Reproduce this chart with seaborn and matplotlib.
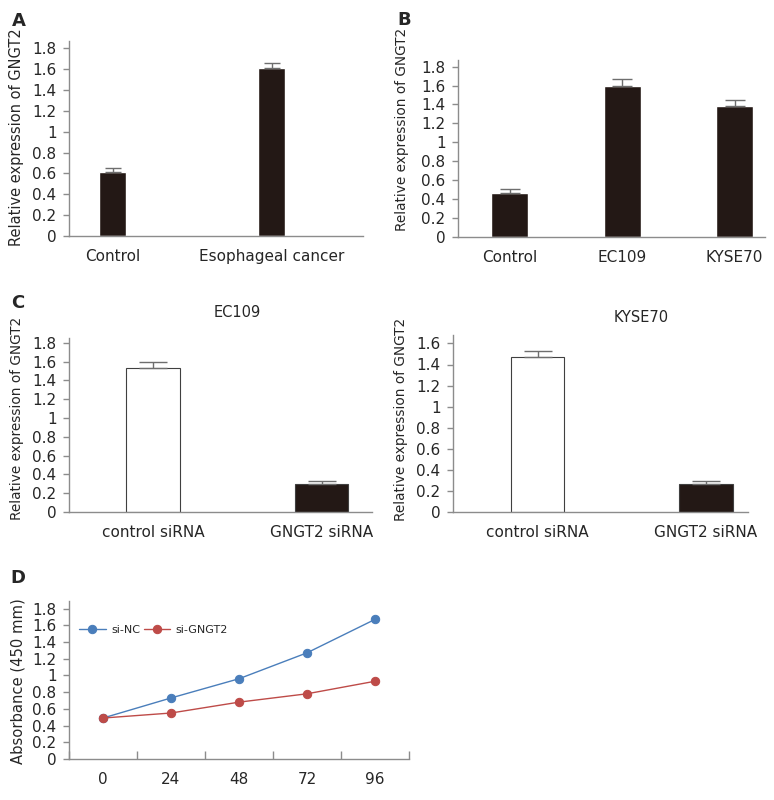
import pandas as pd
import matplotlib
matplotlib.use("Agg")
import matplotlib.pyplot as plt
import seaborn as sns

# panel A
a_cats = ["Control", "Esophageal cancer"]
a_vals = [0.61, 1.61]
a_err = [0.04, 0.05]

# panel B
b_cats = ["Control", "EC109", "KYSE70"]
b_vals = [0.47, 1.60, 1.385]
b_err = [0.033, 0.065, 0.06]

# panel C
c_cats = ["control siRNA", "GNGT2 siRNA"]
c_ec109_vals = [1.535, 0.30]
c_ec109_err = [0.06, 0.03]
c_kyse70_vals = [1.47, 0.266]
c_kyse70_err = [0.06, 0.03]

# panel D
d_hours = ["0", "24", "48", "72", "96"]
d_si_nc = [0.49, 0.73, 0.96, 1.27, 1.67]
d_si_gngt2 = [0.49, 0.55, 0.68, 0.78, 0.93]

sns.set_style("white")
plt.rcParams["font.family"] = ["DejaVu Sans"]
plt.rcParams["font.size"] = 10.5

BAR = "#231815"
GREY = "#8c8c8c"
W, H = 774, 800

fig = plt.figure(figsize=(7.74, 8.0), dpi=100)


def make_ax(left, right, top, bottom):
    return fig.add_axes([left / W, (H - bottom) / H, (right - left) / W, (bottom - top) / H])


def style(ax, ylim_top, yticks, lab_x, lab_y, ylabel="Relative expression of GNGT2", labsize=10.5):
    ax.set_ylim(0, ylim_top)
    ax.set_yticks(yticks)
    ax.set_yticklabels([("%g" % t) for t in yticks])
    for s in ["top", "right"]:
        ax.spines[s].set_visible(False)
    for s in ["left", "bottom"]:
        ax.spines[s].set_color(GREY)
        ax.spines[s].set_linewidth(1)
    ax.tick_params(axis="y", left=True, length=4, width=1, color=GREY, pad=5, labelsize=11)
    ax.tick_params(axis="x", bottom=False, pad=6, labelsize=11)
    ax.set_xlabel("")
    ax.set_ylabel(ylabel, fontsize=labsize)
    ax.yaxis.set_label_coords(lab_x, lab_y)


def err_up(ax, vals, errs, cap):
    ax.errorbar(range(len(vals)), vals, yerr=[[0] * len(errs), errs], fmt="none",
                ecolor="#6e6e6e", elinewidth=1, capsize=cap, capthick=1)


yt = [0, 0.2, 0.4, 0.6, 0.8, 1, 1.2, 1.4, 1.6, 1.8]

# A
ax = make_ax(69, 363, 41, 236)
sns.barplot(x=a_cats, y=a_vals, color=BAR, saturation=1, width=0.17, errorbar=None, ax=ax)
err_up(ax, a_vals, a_err, 6)
ax.set_xlim(-0.274, 1.575)
style(ax, 1.87, yt, -0.153, 0.505)
fig.text(12 / W, 1 - 26 / H, "A", fontsize=13, fontweight="bold")

# B
ax = make_ax(458, 765, 60, 237)
sns.barplot(x=b_cats, y=b_vals, color=BAR, saturation=1, width=0.33, errorbar=None, ax=ax)
err_up(ax, b_vals, b_err, 7)
ax.set_xlim(-0.46, 2.27)
style(ax, 1.87, yt, -0.160, 0.61, labsize=9.8)
fig.text(397 / W, 1 - 25 / H, "B", fontsize=13, fontweight="bold")

# C - EC109
ax = make_ax(69, 372, 338, 512)
sns.barplot(x=c_cats, y=c_ec109_vals, hue=c_cats, palette=["white", BAR], saturation=1,
            width=0.317, errorbar=None, legend=False, edgecolor="#404040", linewidth=0.8, ax=ax)
err_up(ax, c_ec109_vals, c_ec109_err, 10)
ax.set_xlim(-0.50, 1.30)
style(ax, 1.85, yt, -0.149, 0.537, labsize=9.8)
ax.text(0.554, 1.144, "EC109", transform=ax.transAxes, ha="center", va="center", fontsize=10.5)
fig.text(11 / W, 1 - 308 / H, "C", fontsize=13, fontweight="bold")

# C - KYSE70
ax = make_ax(453, 748, 335, 512)
sns.barplot(x=c_cats, y=c_kyse70_vals, hue=c_cats, palette=["white", BAR], saturation=1,
            width=0.317, errorbar=None, legend=False, edgecolor="#404040", linewidth=0.8, ax=ax)
err_up(ax, c_kyse70_vals, c_kyse70_err, 10)
ax.set_xlim(-0.503, 1.25)
style(ax, 1.68, yt[:-1], -0.151, 0.525, labsize=9.8)
ax.text(0.639, 1.10, "KYSE70", transform=ax.transAxes, ha="center", va="center", fontsize=10.5)

# D
df = pd.DataFrame({
    "hour": d_hours * 2,
    "absorbance": d_si_nc + d_si_gngt2,
    "group": ["si-NC"] * len(d_hours) + ["si-GNGT2"] * len(d_hours),
})
ax = make_ax(69, 409, 601, 759)
sns.pointplot(data=df, x="hour", y="absorbance", hue="group", palette=["#4a7ebb", "#be4b48"],
              markers="o", errorbar=None, markersize=6, linewidth=1, ax=ax)
ax.set_xlim(-0.5, 4.5)
style(ax, 1.89, yt, -0.129, 0.49, ylabel="Absorbance (450 mm)", labsize=10.6)
ax.set_xticks([-0.5, 0.5, 1.5, 2.5, 3.5, 4.5], minor=True)
ax.tick_params(axis="x", which="minor", bottom=True, direction="in", length=6, width=1, color=GREY)
ax.tick_params(axis="x", which="major", bottom=False, pad=6)
leg = ax.legend(loc="center left", bbox_to_anchor=(0.0, 0.815), ncol=2, frameon=False,
                fontsize=8, handlelength=2.4, columnspacing=0.3, handletextpad=0.5)
for h in leg.legend_handles:
    h.set_markersize(6)
fig.text(10 / W, 1 - 583 / H, "D", fontsize=13, fontweight="bold")

fig.savefig("out.png", dpi=100)
